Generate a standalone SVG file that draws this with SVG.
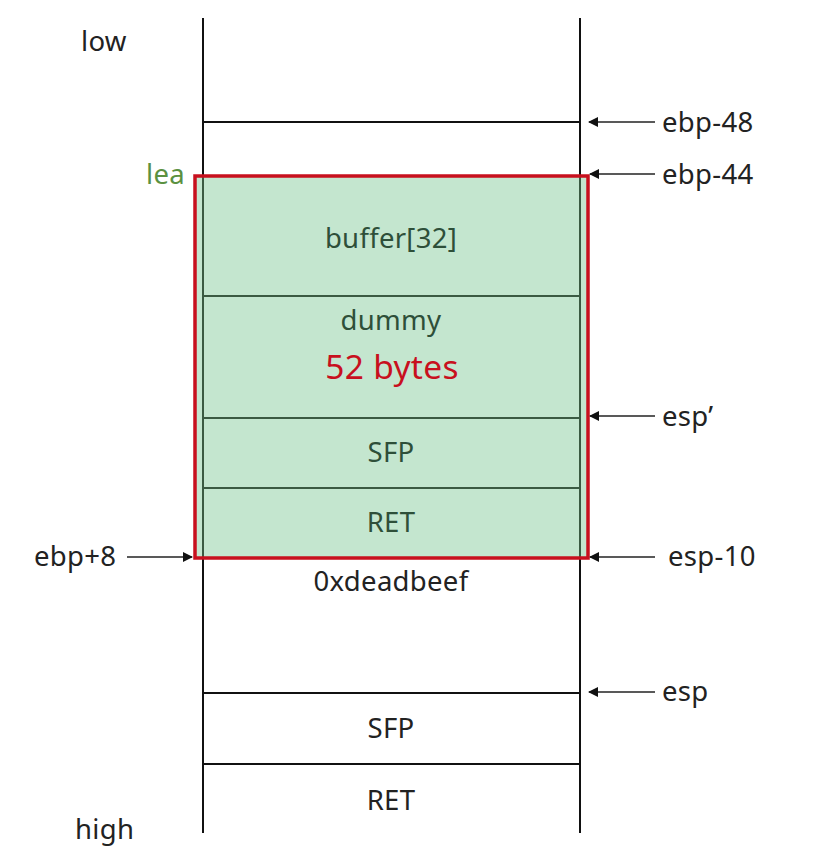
<svg xmlns="http://www.w3.org/2000/svg" width="822" height="862" viewBox="0 0 822 862">
<style>
text{font-family:"Noto Sans","Open Sans",sans-serif;font-size:27.5px;fill:#222;letter-spacing:0.3px}
.c{text-anchor:middle}
.g{fill:#2e4f39}
.ln{stroke:#111;stroke-width:2;fill:none}
.gl{stroke:#3b5a42;stroke-width:2;fill:none}
.ar{stroke:#222;stroke-width:1.5;fill:none;marker-end:url(#ah)}
</style>
<defs>
<marker id="ah" markerWidth="10" markerHeight="10" refX="9" refY="5" orient="auto" markerUnits="userSpaceOnUse"><path d="M0,0 L10,5 L0,10 Z" fill="#111"/></marker>
</defs>
<rect width="822" height="862" fill="#fff"/>
<g id="stack">
<rect x="195" y="176" width="393" height="382" fill="#c4e6cf"/>
<line class="ln" x1="203" y1="18" x2="203" y2="176"/>
<line class="gl" x1="203" y1="176" x2="203" y2="558"/>
<line class="ln" x1="203" y1="558" x2="203" y2="833"/>
<line class="ln" x1="580" y1="18" x2="580" y2="176"/>
<line class="gl" x1="580" y1="176" x2="580" y2="558"/>
<line class="ln" x1="580" y1="558" x2="580" y2="833"/>
<line class="ln" x1="203" y1="122" x2="580" y2="122"/>
<line class="gl" x1="203" y1="296" x2="580" y2="296"/>
<line class="gl" x1="203" y1="418" x2="580" y2="418"/>
<line class="gl" x1="203" y1="488" x2="580" y2="488"/>
<line class="ln" x1="203" y1="693" x2="580" y2="693"/>
<line class="ln" x1="203" y1="764" x2="580" y2="764"/>
<rect x="195" y="176" width="393" height="382" fill="none" stroke="#c8101e" stroke-width="3.5"/>
</g>
<g id="labels">
<text x="81" y="51">low</text>
<text x="75" y="839">high</text>
<text x="146" y="184" style="fill:#5b9141">lea</text>
<text class="c g" x="391" y="248">buffer[32]</text>
<text class="c g" x="391" y="330">dummy</text>
<text class="c" x="392" y="379" style="fill:#c8101e;font-size:33.5px">52 bytes</text>
<text class="c g" x="391" y="462">SFP</text>
<text class="c g" x="391" y="532">RET</text>
<text class="c" x="391" y="591">0xdeadbeef</text>
<text class="c" x="391" y="738">SFP</text>
<text class="c" x="391" y="810">RET</text>
<text x="662" y="132">ebp-48</text>
<text x="662" y="184">ebp-44</text>
<text x="662" y="426">esp’</text>
<text x="668" y="566">esp-10</text>
<text x="662" y="701">esp</text>
<text x="34" y="566">ebp+8</text>
</g>
<g id="connectors">
<line class="ar" x1="655" y1="122" x2="589" y2="122"/>
<line class="ar" x1="655" y1="174" x2="590" y2="174"/>
<line class="ar" x1="655" y1="416" x2="590" y2="416"/>
<line class="ar" x1="655" y1="557" x2="590" y2="557"/>
<line class="ar" x1="655" y1="692" x2="589" y2="692"/>
<line class="ar" x1="127" y1="557" x2="192" y2="557"/>
</g>
</svg>
